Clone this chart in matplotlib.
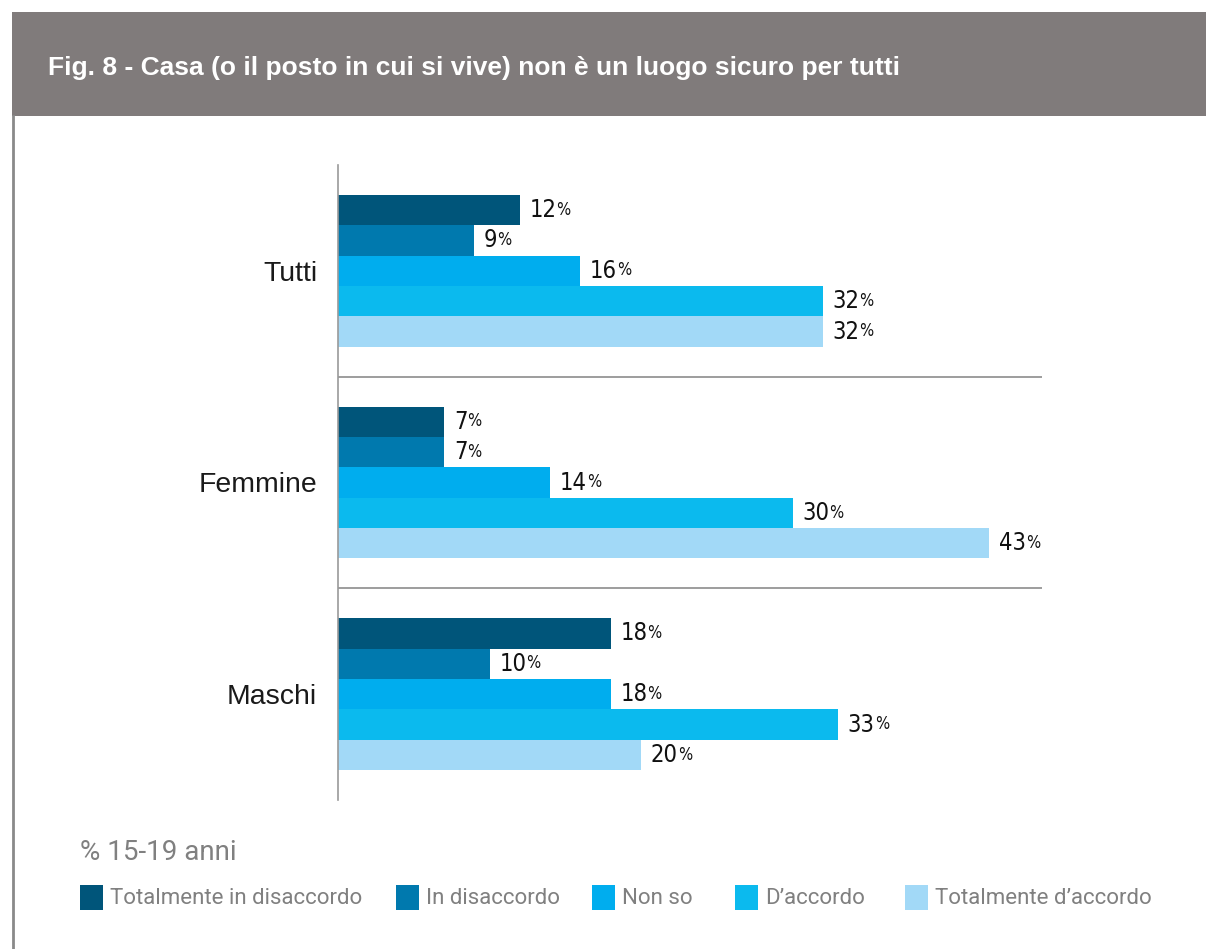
import matplotlib
matplotlib.use("Agg")
import matplotlib.pyplot as plt
from matplotlib.patches import Rectangle
import numpy as np

title = "Fig. 8 - Casa (o il posto in cui si vive) non è un luogo sicuro per tutti"
groups = ["Tutti", "Femmine", "Maschi"]
series = ["Totalmente in disaccordo", "In disaccordo", "Non so", "D\u2019accordo", "Totalmente d\u2019accordo"]
colors = ["#00557A", "#0079AE", "#00ADEE", "#0BBAEE", "#A2D9F7"]
values = [
    [12, 7, 18],   # Totalmente in disaccordo
    [9, 7, 10],    # In disaccordo
    [16, 14, 18],  # Non so
    [32, 30, 33],  # D'accordo
    [32, 43, 20],  # Totalmente d'accordo
]
subtitle = "% 15-19 anni"

W, H = 1206, 949
fig = plt.figure(figsize=(W / 100, H / 100), dpi=100)
fig.patch.set_facecolor("white")

# header band
fig.patches.append(Rectangle((12 / W, 1 - 116 / H), 1 - 12 / W, 104 / H,
                             transform=fig.transFigure, facecolor="#807B7B",
                             edgecolor="none", zorder=0))
# left border line
fig.add_artist(plt.Line2D([13 / W, 13 / W], [0, 1 - 116 / H], transform=fig.transFigure,
                          color="#8A8A8A", lw=2))
fig.text(48 / W, 1 - 68 / H, title, color="white", fontsize=19, fontweight="bold",
         family="Liberation Sans", va="center", ha="left")

ax = fig.add_axes([338 / W, 1 - 800 / H, 704 / W, 635 / H])
h = 0.1435
y0 = np.arange(len(groups))
for i, (s, c, vals) in enumerate(zip(series, colors, values)):
    ys = y0 + (i - 2) * h
    ax.barh(ys, vals, height=h, color=c, edgecolor="none", zorder=2)
    for y, v in zip(ys, vals):
        t = ax.annotate(f"{v}", xy=(v, y), xytext=(7, 0), textcoords="offset points",
                        va="center", ha="left", fontsize=17, family="DejaVu Sans",
                        fontstretch="condensed", color="#111111")
        ax.annotate("%", xy=(1, 0.14), xycoords=t, va="bottom", ha="left",
                    fontsize=12, family="DejaVu Sans", fontstretch="condensed",
                    color="#111111")

ax.set_xlim(0, 704 / 15.15)
ax.set_ylim(2.5, -0.5)
for yl in [0.5, 1.5]:
    ax.axhline(yl, color="#8C8C8C", lw=1.2, zorder=1)
for sp in ["top", "right", "bottom"]:
    ax.spines[sp].set_visible(False)
ax.spines["left"].set_color("#9A9A9A")
ax.spines["left"].set_linewidth(1.2)
ax.set_xticks([])
ax.set_yticks(y0)
ax.set_yticklabels(groups, fontsize=20.4, family="Liberation Sans", color="#1a1a1a")
ax.tick_params(axis="y", length=0, pad=15)

fig.text(80 / W, 1 - 852 / H, subtitle, fontsize=20, family="Roboto", color="#808080",
         va="center", ha="left")

leg_x = [80, 396, 592, 735, 905]
for x, s, c in zip(leg_x, series, colors):
    fig.patches.append(Rectangle((x / W, 1 - 910 / H), 23 / W, 25 / H,
                                 transform=fig.transFigure, facecolor=c, edgecolor="none"))
    fig.text((x + 30) / W, 1 - 898 / H, s, fontsize=16, family="Roboto", color="#808080",
             va="center", ha="left")

fig.savefig("out.png", dpi=100)
